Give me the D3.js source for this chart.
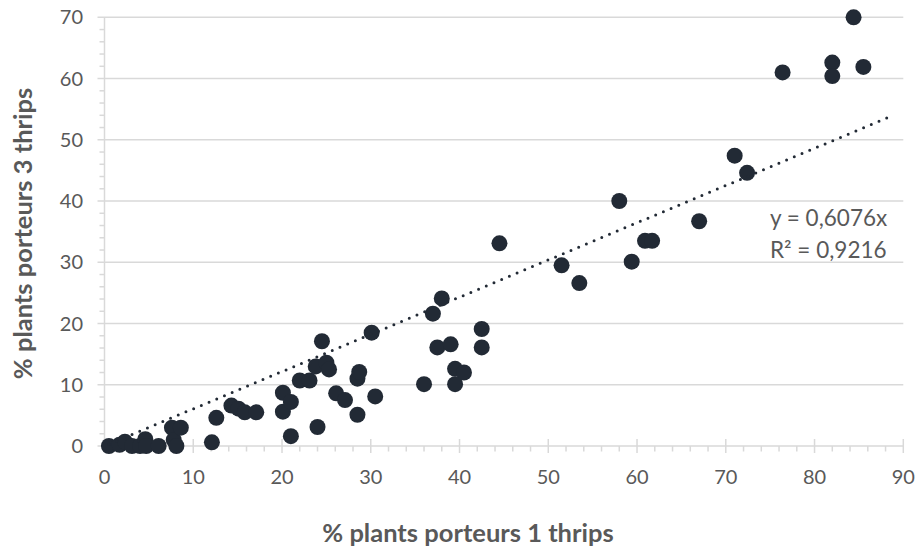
<!DOCTYPE html>
<html>
<head>
<meta charset="utf-8">
<script src="https://cdn.jsdelivr.net/npm/d3@7"></script>
<style>
  html, body { margin: 0; padding: 0; background: #fff; }
  svg { display: block; font-family: Lato, "Open Sans", sans-serif; }
</style>
</head>
<body>
<svg id="chart" width="917" height="546"></svg>
<script>
// ---- Data ----
const xValues = [0.5, 1.7, 2.3, 3.1, 4.0, 4.6, 4.7, 6.1, 7.6, 7.8, 8.1, 8.6, 12.1, 12.6, 14.3, 15.1, 15.8, 17.1,
  20.1, 20.1, 21.0, 21.0, 22.0, 23.1, 24.0, 23.8, 24.5, 25.0, 25.3, 26.1, 27.1, 28.5, 28.5, 28.7, 30.1, 30.5,
  36.0, 37.0, 37.5, 38.0, 39.0, 39.5, 39.5, 40.5, 42.5, 42.5, 44.5, 51.5, 53.5, 58.0, 59.4, 60.9, 61.7, 67.0,
  71.0, 72.4, 76.4, 82.0, 82.0, 84.4, 85.5];
const yValues = [0, 0.2, 0.7, 0, 0, 1.1, 0, 0, 3.0, 1.0, 0, 3.0, 0.6, 4.6, 6.6, 6.1, 5.5, 5.5,
  8.7, 5.6, 7.2, 1.6, 10.7, 10.7, 3.1, 13.0, 17.1, 13.6, 12.5, 8.6, 7.5, 5.1, 11.0, 12.1, 18.5, 8.1,
  10.1, 21.6, 16.1, 24.1, 16.6, 12.6, 10.1, 12.0, 19.1, 16.1, 33.1, 29.5, 26.6, 40.0, 30.1, 33.5, 33.5, 36.7,
  47.4, 44.6, 61.0, 62.6, 60.4, 70.0, 61.9];
const xTicks = [0, 10, 20, 30, 40, 50, 60, 70, 80, 90];
const yTicks = [0, 10, 20, 30, 40, 50, 60, 70];
const minorStep = 2;
const trendSlope = 0.6076;
const trendR2 = 0.9216;
const trendEndX = 88.2;
const xTitle = "% plants porteurs 1 thrips";
const yTitle = "% plants porteurs 3 thrips";
const eqLine1 = "y = 0,6076x";
const eqLine2 = "R² = 0,9216";

// ---- Layout ----
const svg = d3.select("#chart");
const pLeft = 104.5, pRight = 903.3, pTop = 17.3, pBottom = 446;
const x = d3.scaleLinear().domain([0, 90]).range([pLeft, pRight]);
const y = d3.scaleLinear().domain([0, 70]).range([pBottom, pTop]);
const gridColor = "#d9d9d9";
const textColor = "#595959";
const dotColor = "#222a35";

const minorX = d3.range(0, 90 + 0.001, minorStep).filter(v => v % 10 !== 0);
const minorY = d3.range(0, 70 + 0.001, minorStep).filter(v => v % 10 !== 0);

// gridlines (horizontal) with outside major ticks
svg.append("g").selectAll("line").data(yTicks.filter(v => v !== 0)).join("line")
  .attr("x1", pLeft - 7).attr("x2", pRight)
  .attr("y1", d => y(d)).attr("y2", d => y(d))
  .attr("stroke", gridColor).attr("stroke-width", 1.5);

// y minor ticks
svg.append("g").selectAll("line").data(minorY).join("line")
  .attr("x1", pLeft - 5).attr("x2", pLeft)
  .attr("y1", d => y(d)).attr("y2", d => y(d))
  .attr("stroke", gridColor).attr("stroke-width", 1.5);

// y axis line
svg.append("line").attr("x1", pLeft).attr("x2", pLeft).attr("y1", pTop).attr("y2", pBottom)
  .attr("stroke", gridColor).attr("stroke-width", 1.5);

// x axis line (at y = 0)
svg.append("line").attr("x1", pLeft - 7).attr("x2", pRight).attr("y1", y(0)).attr("y2", y(0))
  .attr("stroke", gridColor).attr("stroke-width", 1.5);

// x major ticks (cross)
svg.append("g").selectAll("line").data(xTicks).join("line")
  .attr("x1", d => x(d)).attr("x2", d => x(d))
  .attr("y1", y(0) - 7).attr("y2", y(0) + 7)
  .attr("stroke", gridColor).attr("stroke-width", 1.5);

// x minor ticks (outside)
svg.append("g").selectAll("line").data(minorX).join("line")
  .attr("x1", d => x(d)).attr("x2", d => x(d))
  .attr("y1", y(0)).attr("y2", y(0) + 5.5)
  .attr("stroke", gridColor).attr("stroke-width", 1.5);

// tick labels
svg.append("g").selectAll("text").data(xTicks).join("text")
  .attr("x", d => x(d)).attr("y", 484)
  .attr("text-anchor", "middle").attr("font-size", 20).attr("fill", textColor)
  .text(d => d);
svg.append("g").selectAll("text").data(yTicks).join("text")
  .attr("x", 83).attr("y", d => y(d) + 7)
  .attr("text-anchor", "end").attr("font-size", 20).attr("fill", textColor)
  .text(d => d);

// axis titles
svg.append("text").attr("x", 468).attr("y", 542)
  .attr("text-anchor", "middle").attr("font-size", 25.5).attr("font-weight", "bold")
  .attr("fill", textColor).text(xTitle);
svg.append("text").attr("transform", "translate(32,233.5) rotate(-90)")
  .attr("text-anchor", "middle").attr("font-size", 25.5).attr("font-weight", "bold")
  .attr("fill", textColor).text(yTitle);

// points
const pts = xValues.map((v, i) => ({ x: v, y: yValues[i] }));
svg.append("g").selectAll("circle").data(pts).join("circle")
  .attr("cx", d => x(d.x)).attr("cy", d => y(d.y)).attr("r", 8)
  .attr("fill", dotColor);

// trendline (through origin)
const tx0 = d3.min(xValues);
const trend = [[tx0, trendSlope * tx0], [trendEndX, trendSlope * trendEndX]];
svg.append("path")
  .attr("d", d3.line().x(d => x(d[0])).y(d => y(d[1]))(trend))
  .attr("fill", "none").attr("stroke", dotColor).attr("stroke-width", 3)
  .attr("stroke-linecap", "round").attr("stroke-dasharray", "0 8.35");

// equation label
svg.append("text").attr("x", 770).attr("y", 225.5)
  .attr("font-size", 22.5).attr("fill", textColor).text(eqLine1);
svg.append("text").attr("x", 770).attr("y", 257.5)
  .attr("font-size", 22.5).attr("fill", textColor).text(eqLine2);
</script>
</body>
</html>
